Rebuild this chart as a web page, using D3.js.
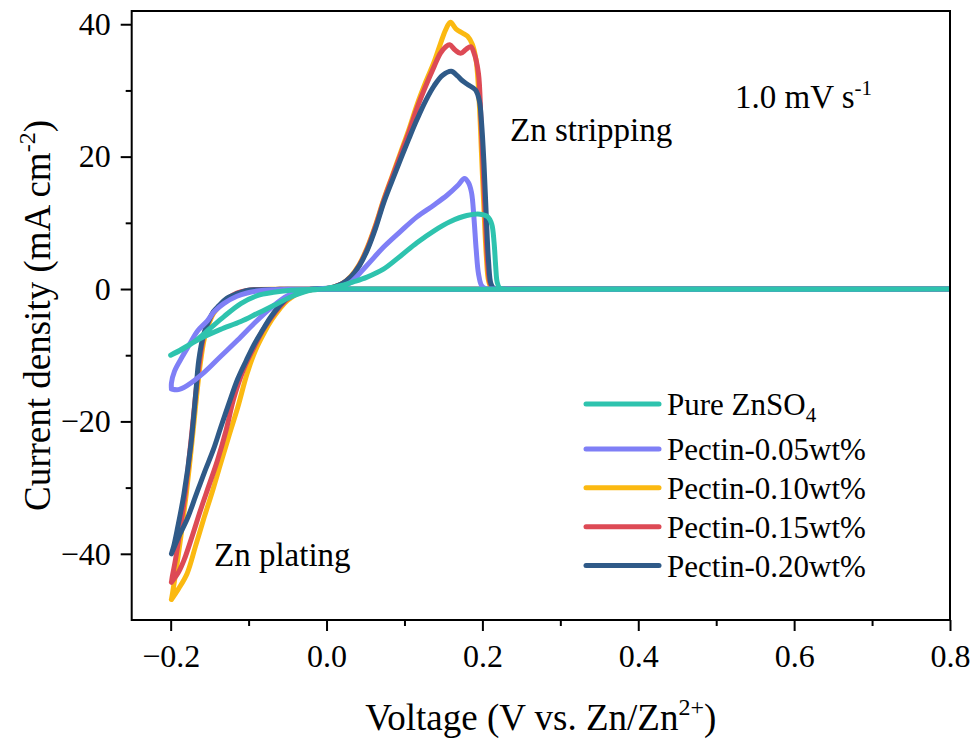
<!DOCTYPE html>
<html>
<head>
<meta charset="utf-8">
<script src="https://cdn.jsdelivr.net/npm/d3@7"></script>
<style>
  html, body { margin: 0; padding: 0; background: #fff; }
  svg { display: block; }
  text { font-family: "Liberation Serif", "Times New Roman", serif; fill: #000; }
</style>
</head>
<body>
<svg id="chart" width="977" height="744"></svg>
<script>
// ---------------- DATA ----------------
const seriesNames = ["Pure ZnSO4", "Pectin-0.05wt%", "Pectin-0.10wt%", "Pectin-0.15wt%", "Pectin-0.20wt%"];
const seriesColors = ["#2EC3AE", "#7F7FF6", "#FBB911", "#DD4A55", "#2F5A88"];
const xTicks = [-0.2, 0.0, 0.2, 0.4, 0.6, 0.8];
const xMinorTicks = [-0.1, 0.1, 0.3, 0.5, 0.7];
const yTicks = [-40, -20, 0, 20, 40];
const yMinorTicks = [-30, -10, 10, 30];

// [voltage (V), current density (mA cm-2)] in scan order (closed CV loops)
const pureZnSO4 = [
  [-0.2,-10.0],[-0.186,-9.1],[-0.170,-8.0],[-0.153,-7.0],[-0.136,-6.1],[-0.110,-4.9],[-0.089,-3.7],
  [-0.068,-2.5],[-0.046,-1.2],[-0.025,-0.3],[0.0,0.1],[0.018,0.5],[0.035,1.1],[0.052,1.8],
  [0.073,3.0],[0.095,5.0],[0.116,7.0],[0.138,8.8],[0.159,10.2],[0.180,11.1],[0.197,11.3],
  [0.207,10.9],[0.212,9.8],[0.215,7.0],[0.217,3.5],[0.219,1.0],[0.222,0.15],[0.228,0.0],
  [0.26,0.0],[0.4,0.0],[0.6,0.0],[0.8,0.0],
  [0.6,-0.05],[0.4,-0.05],[0.2,-0.05],[0.05,0.0],[0.0,0.0],[-0.03,-0.1],[-0.046,-0.2],[-0.068,-0.5],
  [-0.089,-1.0],[-0.110,-2.2],[-0.132,-4.2],[-0.150,-6.0],[-0.168,-7.8],[-0.185,-9.1],[-0.2,-10.0]
];
const pectin005 = [
  [-0.199,-15.1],[-0.190,-15.2],[-0.179,-14.6],[-0.157,-12.6],[-0.136,-10.2],[-0.114,-7.7],
  [-0.093,-5.2],[-0.072,-2.9],[-0.050,-1.0],[-0.030,-0.2],[0.0,0.1],[0.020,0.4],[0.031,1.0],
  [0.052,3.6],[0.073,6.3],[0.095,8.7],[0.116,10.9],[0.138,12.7],[0.155,14.2],[0.168,15.6],
  [0.177,16.7],[0.182,16.1],[0.186,14.6],[0.189,11.0],[0.192,6.0],[0.195,2.3],[0.199,0.5],
  [0.204,0.05],[0.212,0.0],[0.26,0.0],[0.4,0.0],[0.6,0.0],[0.8,0.0],[0.6,-0.05],[0.4,-0.05],
  [0.2,-0.05],[0.0,-0.05],[-0.05,-0.05],[-0.07,-0.1],
  [-0.089,-0.3],[-0.102,-0.6],[-0.115,-1.1],[-0.132,-2.2],[-0.144,-3.4],[-0.153,-4.8],
  [-0.166,-6.4],[-0.175,-8.2],[-0.185,-10.2],[-0.195,-12.4],[-0.199,-14.2],[-0.199,-15.1]
];
const pectin010 = [
  [-0.199,-46.9],[-0.190,-45.3],[-0.179,-43.0],[-0.168,-38.8],[-0.157,-34.5],[-0.146,-30.4],
  [-0.136,-26.4],[-0.125,-22.1],[-0.114,-17.9],[-0.102,-12.8],[-0.091,-9.2],[-0.080,-6.6],
  [-0.070,-4.6],[-0.060,-3.0],[-0.050,-1.7],[-0.035,-0.6],[-0.020,-0.1],[0.0,0.1],[0.009,0.3],
  [0.020,0.8],[0.031,1.9],[0.042,3.7],[0.052,6.2],[0.063,9.7],[0.073,13.4],[0.084,17.0],
  [0.095,20.6],[0.106,24.2],[0.116,27.8],[0.127,31.2],[0.138,34.3],[0.146,37.0],[0.153,39.2],
  [0.159,40.3],[0.166,39.3],[0.174,38.7],[0.181,38.2],[0.187,37.0],[0.192,34.5],[0.196,28.0],
  [0.199,20.0],[0.202,12.0],[0.205,5.0],[0.208,1.2],[0.212,0.1],[0.220,0.0],[0.26,0.0],
  [0.4,0.0],[0.6,0.0],[0.8,0.0],[0.6,-0.05],[0.4,-0.05],[0.2,-0.05],
  [0.0,-0.05],[-0.06,-0.05],[-0.09,-0.1],[-0.102,-0.3],[-0.115,-0.7],[-0.128,-1.6],[-0.138,-2.7],
  [-0.145,-3.7],[-0.152,-5.6],[-0.157,-7.6],[-0.162,-11.3],[-0.167,-16.5],[-0.173,-23.5],
  [-0.180,-31.0],[-0.187,-37.5],[-0.193,-42.5],[-0.197,-45.5],[-0.199,-46.9]
];
const pectin015 = [
  [-0.199,-44.3],[-0.190,-42.8],[-0.183,-41.0],[-0.172,-37.2],[-0.162,-33.5],[-0.151,-29.7],
  [-0.140,-25.9],[-0.129,-21.4],[-0.119,-16.5],[-0.106,-12.0],[-0.093,-8.8],[-0.082,-6.3],
  [-0.072,-4.5],[-0.061,-2.8],[-0.050,-1.5],[-0.035,-0.5],[-0.020,-0.1],[0.0,0.1],[0.009,0.3],
  [0.020,0.8],[0.031,1.8],[0.042,3.6],[0.052,6.0],[0.063,9.5],[0.073,13.2],[0.084,16.8],
  [0.095,20.3],[0.106,23.8],[0.116,27.3],[0.127,30.6],[0.138,33.6],[0.146,35.6],[0.153,36.6],
  [0.158,36.9],[0.165,36.1],[0.172,35.6],[0.179,36.2],[0.185,36.6],[0.190,35.4],[0.195,32.5],
  [0.198,26.0],[0.201,18.0],[0.204,10.0],[0.207,3.5],[0.210,0.8],[0.214,0.05],[0.222,0.0],
  [0.26,0.0],[0.4,0.0],[0.6,0.0],[0.8,0.0],[0.6,-0.05],[0.4,-0.05],[0.2,-0.05],[0.0,-0.05],
  [-0.06,-0.05],[-0.09,-0.1],[-0.102,-0.2],
  [-0.115,-0.6],[-0.128,-1.5],[-0.138,-2.6],[-0.145,-3.5],[-0.153,-5.4],[-0.158,-7.3],
  [-0.163,-11.0],[-0.168,-16.0],[-0.174,-23.0],[-0.181,-30.5],[-0.188,-36.5],[-0.194,-41.0],
  [-0.198,-43.5],[-0.199,-44.3]
];
const pectin020 = [
  [-0.199,-40.0],[-0.190,-37.5],[-0.179,-34.8],[-0.168,-31.3],[-0.157,-27.8],[-0.145,-24.2],
  [-0.136,-21.0],[-0.125,-17.2],[-0.114,-13.6],[-0.103,-10.8],[-0.093,-8.4],[-0.082,-6.2],
  [-0.072,-4.3],[-0.061,-2.6],[-0.050,-1.3],[-0.035,-0.4],[-0.020,0.0],[0.0,0.1],[0.009,0.3],
  [0.020,0.8],[0.031,1.8],[0.042,3.5],[0.052,5.8],[0.063,9.2],[0.073,12.9],[0.084,16.3],
  [0.095,19.6],[0.106,22.8],[0.116,25.6],[0.127,28.4],[0.138,30.7],[0.149,32.3],[0.160,32.9],
  [0.168,32.2],[0.174,31.5],[0.181,30.9],[0.191,30.1],[0.196,28.5],[0.199,25.0],[0.202,19.0],
  [0.205,11.0],[0.208,4.0],[0.211,0.8],[0.215,0.05],[0.223,0.0],[0.26,0.0],[0.4,0.0],[0.6,0.0],
  [0.8,0.0],[0.6,-0.05],[0.4,-0.05],
  [0.2,-0.05],[0.0,-0.05],[-0.06,-0.05],[-0.09,-0.1],[-0.102,-0.2],[-0.115,-0.7],[-0.128,-1.4],
  [-0.138,-2.5],[-0.145,-3.4],[-0.153,-5.3],[-0.158,-7.0],[-0.164,-10.8],[-0.168,-16.0],
  [-0.174,-23.4],[-0.183,-31.0],[-0.191,-36.0],[-0.196,-38.8],[-0.199,-40.0]
];
const seriesData = [pureZnSO4, pectin005, pectin010, pectin015, pectin020];
// drawing order (back to front)
const drawOrder = [2, 3, 4, 1, 0];

// ---------------- LAYOUT ----------------
const plot = { left: 131.7, right: 950, top: 11, bottom: 620 };
const svg = d3.select("#chart");

const x = d3.scaleLinear().domain([-0.25, 0.8]).range([plot.left, plot.right]);
const y = d3.scaleLinear().domain([-50, 42]).range([plot.bottom, plot.top]);

svg.append("defs").append("clipPath").attr("id", "clip")
  .append("rect").attr("x", plot.left).attr("y", plot.top)
  .attr("width", plot.right - plot.left).attr("height", plot.bottom - plot.top);

const line = d3.line()
  .x(d => x(d[0])).y(d => y(d[1]))
  .curve(d3.curveCatmullRom.alpha(0.5));

const gLines = svg.append("g").attr("clip-path", "url(#clip)");
drawOrder.forEach(i => {
  gLines.append("path")
    .datum(seriesData[i])
    .attr("d", line)
    .attr("fill", "none")
    .attr("stroke", seriesColors[i])
    .attr("stroke-width", 5)
    .attr("stroke-linejoin", "round")
    .attr("stroke-linecap", "round");
});

// axes
const fontTick = 32;
const xAxis = svg.append("g").attr("transform", `translate(0,${plot.bottom})`)
  .call(d3.axisBottom(x).tickValues(xTicks).tickSize(11).tickPadding(13).tickFormat(d3.format(".1f")));
const xMinor = svg.append("g").attr("transform", `translate(0,${plot.bottom})`)
  .call(d3.axisBottom(x).tickValues(xMinorTicks).tickSize(6).tickFormat(""));
const yAxis = svg.append("g").attr("transform", `translate(${plot.left},0)`)
  .call(d3.axisLeft(y).tickValues(yTicks).tickSize(11).tickPadding(10).tickFormat(d3.format("d")));
const yMinor = svg.append("g").attr("transform", `translate(${plot.left},0)`)
  .call(d3.axisLeft(y).tickValues(yMinorTicks).tickSize(6).tickFormat(""));

[xAxis, xMinor, yAxis, yMinor].forEach(g => {
  g.attr("font-family", "'Liberation Serif', 'Times New Roman', serif");
  g.select(".domain").remove();
  g.selectAll(".tick line").attr("stroke", "#000").attr("stroke-width", 2);
  g.selectAll(".tick text").attr("font-size", fontTick).attr("fill", "#000");
});

// frame
svg.append("rect")
  .attr("x", plot.left).attr("y", plot.top)
  .attr("width", plot.right - plot.left).attr("height", plot.bottom - plot.top)
  .attr("fill", "none").attr("stroke", "#000").attr("stroke-width", 2);

// axis titles
const xt = svg.append("text")
  .attr("x", (plot.left + plot.right) / 2).attr("y", 730)
  .attr("text-anchor", "middle").attr("font-size", 37);
xt.append("tspan").text("Voltage (V vs. Zn/Zn");
xt.append("tspan").attr("font-size", 24).attr("dy", -15).text("2+");
xt.append("tspan").attr("dy", 15).text(")");

const yt = svg.append("text")
  .attr("transform", `translate(50,${(plot.top + plot.bottom) / 2}) rotate(-90)`)
  .attr("text-anchor", "middle").attr("font-size", 37);
yt.append("tspan").text("Current density (mA cm");
yt.append("tspan").attr("font-size", 24).attr("dy", -15).text("-2");
yt.append("tspan").attr("dy", 15).text(")");

// annotations
const rate = svg.append("text").attr("x", 735).attr("y", 108).attr("font-size", 33);
rate.append("tspan").text("1.0 mV s");
rate.append("tspan").attr("font-size", 21).attr("dy", -13).text("-1");

svg.append("text").attr("x", 510).attr("y", 141).attr("font-size", 33).text("Zn stripping");
svg.append("text").attr("x", 214).attr("y", 566).attr("font-size", 33).text("Zn plating");

// legend
const legend = svg.append("g");
seriesNames.forEach((name, i) => {
  const ly = 404 + (i > 0 ? 6 : 0) + i * 38.9;
  legend.append("line")
    .attr("x1", 586).attr("x2", 659).attr("y1", ly).attr("y2", ly)
    .attr("stroke", seriesColors[i]).attr("stroke-width", 5).attr("stroke-linecap", "round");
  const t = legend.append("text").attr("x", 667).attr("y", ly + 11).attr("font-size", 31);
  if (name === "Pure ZnSO4") {
    t.append("tspan").text("Pure ZnSO");
    t.append("tspan").attr("font-size", 21).attr("dy", 7).text("4");
  } else {
    t.text(name);
  }
});
</script>
</body>
</html>
